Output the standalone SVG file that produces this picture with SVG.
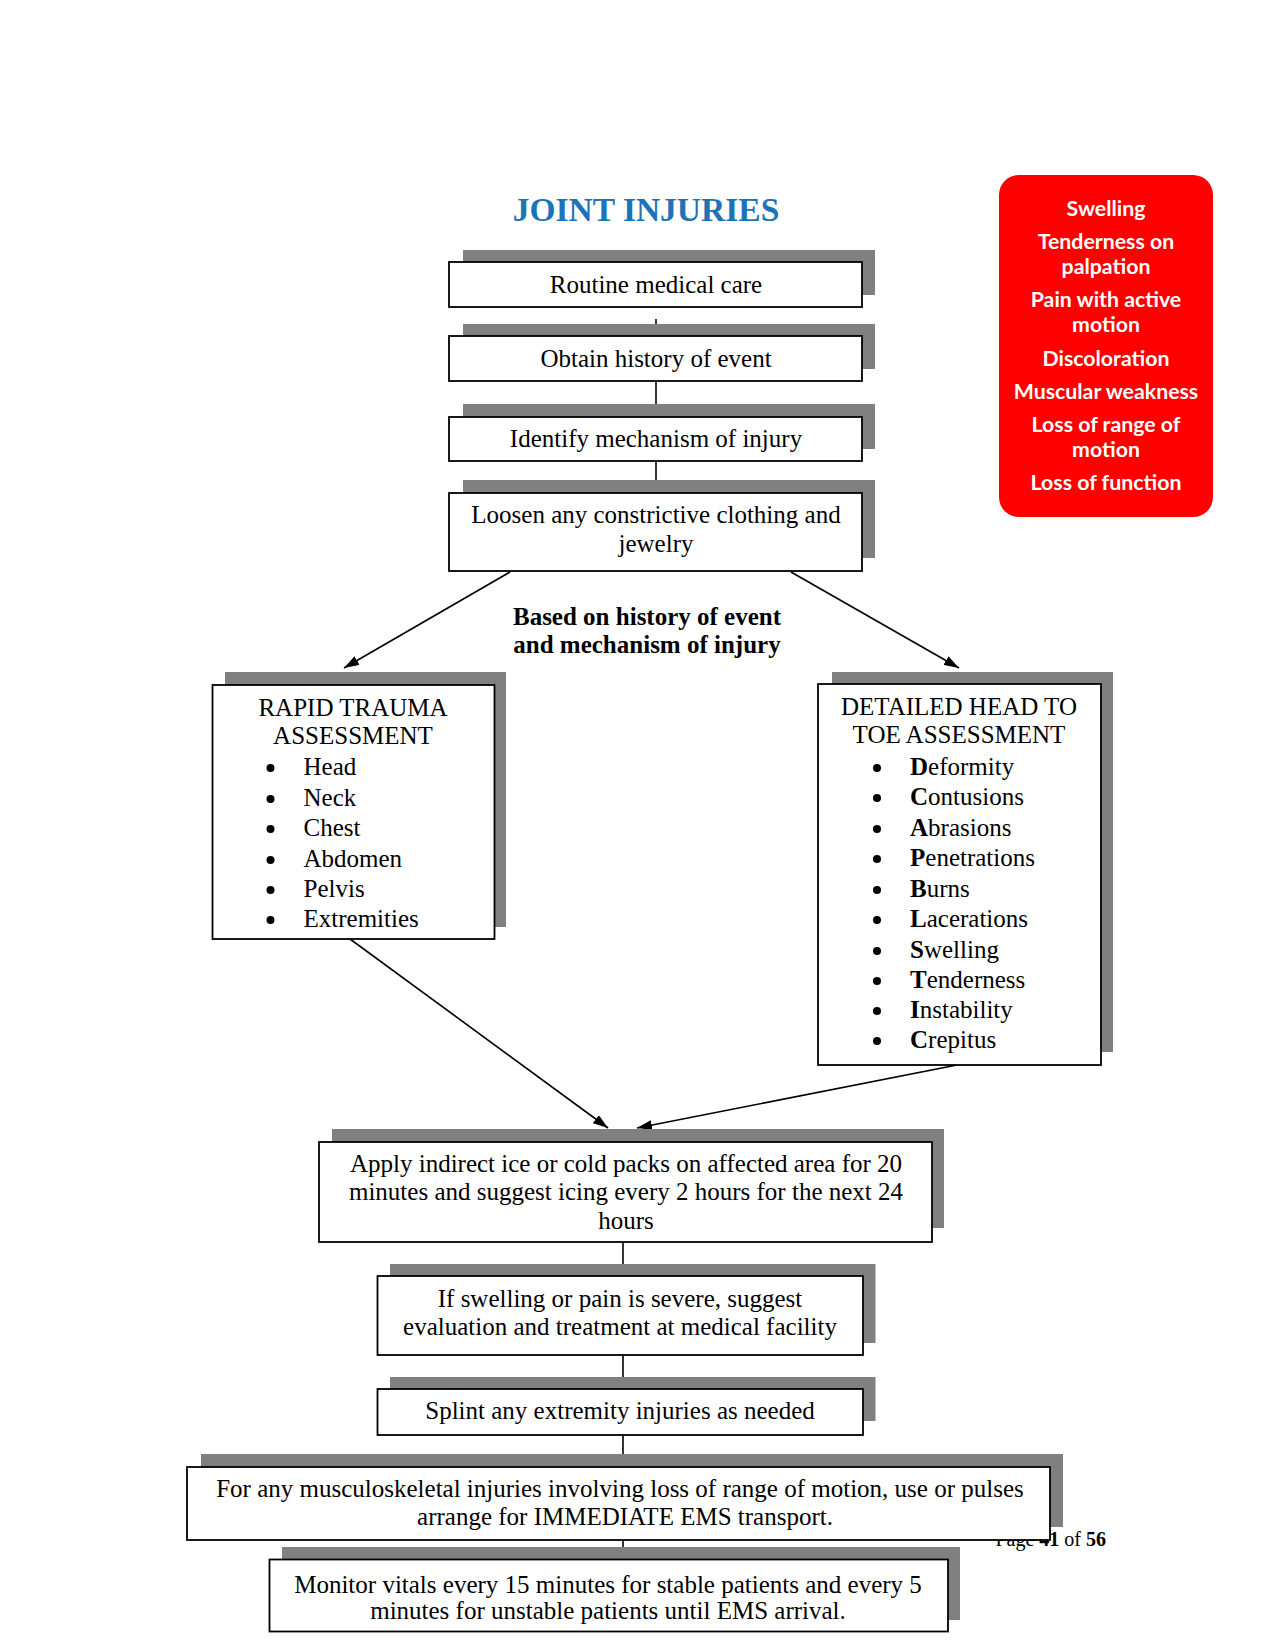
<svg xmlns="http://www.w3.org/2000/svg" width="1275" height="1651" viewBox="0 0 1275 1651">
<style>
.sh{fill:#808080;}
.bx{fill:#fff;stroke:#000;stroke-width:1.8;}
.t{font-family:"Liberation Serif","Times New Roman",serif;font-size:25px;fill:#000;text-anchor:middle;}
.tl{font-family:"Liberation Serif","Times New Roman",serif;font-size:25px;fill:#000;}
.b{font-weight:bold;}
.bul{fill:#000;}
.con{stroke:#000;stroke-width:1.6;fill:none;}
.arr{stroke:#000;stroke-width:1.6;fill:none;marker-end:url(#ah);}
.red{font-family:Lato,"Open Sans",sans-serif;font-weight:bold;font-size:21.3px;fill:#fff;text-anchor:middle;}
</style>
<defs>
<marker id="ah" markerUnits="userSpaceOnUse" markerWidth="15" markerHeight="10" refX="15" refY="5" orient="auto">
<path d="M0,0 L15,5 L0,10 z" fill="#000"/>
</marker>
</defs>
<rect width="1275" height="1651" fill="#fff"/>

<text id="title" x="646" y="221" font-family="Liberation Serif,'Times New Roman',serif" font-size="33.5" font-weight="bold" fill="#1b73b8" text-anchor="middle">JOINT INJURIES</text>

<g id="signs">
<rect x="999" y="175" width="214" height="342" rx="20" ry="20" fill="#fe0000"/>
<text class="red" x="1106" y="216">Swelling</text>
<text class="red" x="1106" y="249">Tenderness on</text>
<text class="red" x="1106" y="274">palpation</text>
<text class="red" x="1106" y="307">Pain with active</text>
<text class="red" x="1106" y="332">motion</text>
<text class="red" x="1106" y="366">Discoloration</text>
<text class="red" x="1106" y="399">Muscular weakness</text>
<text class="red" x="1106" y="432">Loss of range of</text>
<text class="red" x="1106" y="457">motion</text>
<text class="red" x="1106" y="490">Loss of function</text>
</g>

<g id="connectors">
<line class="con" x1="656" y1="319" x2="656" y2="330"/>
<line class="con" x1="656" y1="381" x2="656" y2="410"/>
<line class="con" x1="656" y1="461" x2="656" y2="485"/>
<line class="arr" x1="510" y1="572" x2="344" y2="668"/>
<line class="arr" x1="791" y1="572" x2="959" y2="668"/>
<line class="arr" x1="350" y1="939" x2="608" y2="1128"/>
<line class="arr" x1="957" y1="1065" x2="637" y2="1128"/>
<line class="con" x1="623" y1="1242" x2="623" y2="1270"/>
<line class="con" x1="623" y1="1355" x2="623" y2="1382"/>
<line class="con" x1="623" y1="1435" x2="623" y2="1460"/>
<line class="con" x1="623" y1="1540" x2="623" y2="1552"/>
</g>

<text id="label" class="t b" x="647" y="625" font-size="23.8">Based on history of event</text>
<text class="t b" x="647" y="653" font-size="23.8">and mechanism of injury</text>

<g id="n1">
<rect class="sh" x="463" y="250" width="412" height="45"/>
<rect class="bx" x="449" y="262" width="413" height="45"/>
<text class="t" x="656" y="293">Routine medical care</text>
</g>
<g id="n2">
<rect class="sh" x="463" y="324" width="412" height="45"/>
<rect class="bx" x="449" y="336" width="413" height="45"/>
<text class="t" x="656" y="367">Obtain history of event</text>
</g>
<g id="n3">
<rect class="sh" x="463" y="404" width="412" height="45"/>
<rect class="bx" x="449" y="417" width="413" height="44"/>
<text class="t" x="656" y="447">Identify mechanism of injury</text>
</g>
<g id="n4">
<rect class="sh" x="463" y="480" width="412" height="78"/>
<rect class="bx" x="449" y="493" width="413" height="78" stroke-width="2.2"/>
<text class="t" x="656" y="523">Loosen any constrictive clothing and</text>
<text class="t" x="656" y="552">jewelry</text>
</g>

<g id="rapid">
<rect class="sh" x="225" y="672" width="281" height="255"/>
<rect class="bx" x="212.5" y="685" width="282" height="254" stroke-width="2.2"/>
<text class="t" x="353" y="716">RAPID TRAUMA</text>
<text class="t" x="353" y="744">ASSESSMENT</text>
<circle class="bul" cx="270.5" cy="768" r="4"/><text class="tl" x="303.5" y="775">Head</text>
<circle class="bul" cx="270.5" cy="799" r="4"/><text class="tl" x="303.5" y="806">Neck</text>
<circle class="bul" cx="270.5" cy="829" r="4"/><text class="tl" x="303.5" y="836">Chest</text>
<circle class="bul" cx="270.5" cy="860" r="4"/><text class="tl" x="303.5" y="867">Abdomen</text>
<circle class="bul" cx="270.5" cy="890" r="4"/><text class="tl" x="303.5" y="897">Pelvis</text>
<circle class="bul" cx="270.5" cy="920" r="4"/><text class="tl" x="303.5" y="927">Extremities</text>
</g>

<g id="detailed">
<rect class="sh" x="832" y="672" width="281" height="380"/>
<rect class="bx" x="818" y="684" width="283" height="381" stroke-width="2.2"/>
<text class="t" x="959" y="715">DETAILED HEAD TO</text>
<text class="t" x="959" y="743">TOE ASSESSMENT</text>
<circle class="bul" cx="877" cy="768" r="4"/><text class="tl" x="910" y="775"><tspan class="b">D</tspan>eformity</text>
<circle class="bul" cx="877" cy="798" r="4"/><text class="tl" x="910" y="805"><tspan class="b">C</tspan>ontusions</text>
<circle class="bul" cx="877" cy="829" r="4"/><text class="tl" x="910" y="836"><tspan class="b">A</tspan>brasions</text>
<circle class="bul" cx="877" cy="859" r="4"/><text class="tl" x="910" y="866"><tspan class="b">P</tspan>enetrations</text>
<circle class="bul" cx="877" cy="890" r="4"/><text class="tl" x="910" y="897"><tspan class="b">B</tspan>urns</text>
<circle class="bul" cx="877" cy="920" r="4"/><text class="tl" x="910" y="927"><tspan class="b">L</tspan>acerations</text>
<circle class="bul" cx="877" cy="951" r="4"/><text class="tl" x="910" y="958"><tspan class="b">S</tspan>welling</text>
<circle class="bul" cx="877" cy="981" r="4"/><text class="tl" x="910" y="988"><tspan class="b">T</tspan>enderness</text>
<circle class="bul" cx="877" cy="1011" r="4"/><text class="tl" x="910" y="1018"><tspan class="b">I</tspan>nstability</text>
<circle class="bul" cx="877" cy="1041" r="4"/><text class="tl" x="910" y="1048"><tspan class="b">C</tspan>repitus</text>
</g>

<g id="ice">
<rect class="sh" x="332" y="1129" width="612" height="99"/>
<rect class="bx" x="319" y="1142" width="613" height="100"/>
<text class="t" x="626" y="1172">Apply indirect ice or cold packs on affected area for 20</text>
<text class="t" x="626" y="1200">minutes and suggest icing every 2 hours for the next 24</text>
<text class="t" x="626" y="1229">hours</text>
</g>

<g id="severe">
<rect class="sh" x="390" y="1264" width="485.5" height="79"/>
<rect class="bx" x="377.5" y="1276" width="485.5" height="79"/>
<text class="t" x="620" y="1307">If swelling or pain is severe, suggest</text>
<text class="t" x="620" y="1335">evaluation and treatment at medical facility</text>
</g>

<g id="splint">
<rect class="sh" x="390" y="1377" width="485.5" height="44"/>
<rect class="bx" x="377.5" y="1389" width="485.5" height="46"/>
<text class="t" x="620" y="1419">Splint any extremity injuries as needed</text>
</g>

<text id="page" x="1106" y="1546" font-family="Liberation Serif,'Times New Roman',serif" font-size="20" text-anchor="end">Page <tspan font-weight="bold">41</tspan> of <tspan font-weight="bold">56</tspan></text>

<g id="ems">
<rect class="sh" x="201" y="1454" width="862" height="73"/>
<rect class="bx" x="187" y="1467" width="863" height="73"/>
<text class="t" x="620" y="1497">For any musculoskeletal injuries involving loss of range of motion, use or pulses</text>
<text class="t" x="625" y="1525">arrange for IMMEDIATE EMS transport.</text>
</g>

<g id="monitor">
<rect class="sh" x="282" y="1547" width="678" height="73"/>
<rect class="bx" x="269.5" y="1559.5" width="678.5" height="72"/>
<text class="t" x="608" y="1593">Monitor vitals every 15 minutes for stable patients and every 5</text>
<text class="t" x="608" y="1619">minutes for unstable patients until EMS arrival.</text>
</g>
</svg>
